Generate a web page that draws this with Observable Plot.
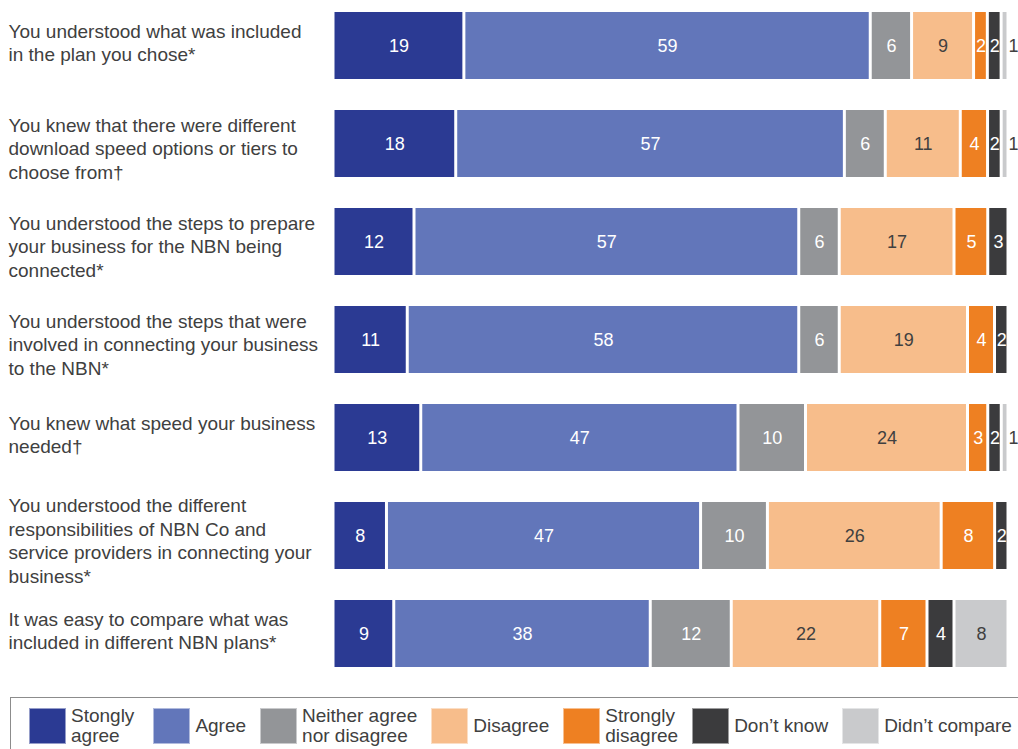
<!DOCTYPE html>
<html>
<head>
<meta charset="utf-8">
<script src="https://cdn.jsdelivr.net/npm/d3@7"></script>
<script src="https://cdn.jsdelivr.net/npm/@observablehq/plot@0.6"></script>
<style>
  html, body { margin: 0; padding: 0; background: #fff; overflow: hidden; }
  body { font-family: "Liberation Sans", Arial, sans-serif; color: #404040; width: 1018px; height: 749px; }
  #legend {
    margin: 7px 0 0 10px;
    border-top: 1.5px solid #8c8c8c;
    border-left: 1.5px solid #8c8c8c;
    height: 56px;
    width: 1100px;
    padding-left: 18px;
    display: flex;
    align-items: center;
  }
  .item { display: flex; align-items: center; margin-right: 14px; }
  .item:first-child { margin-right: 19px; }
  .sw { width: 37px; height: 36px; box-sizing: border-box; border: 1px solid rgba(255,255,255,0.5); }
  .lab { margin-left: 5px; font-size: 19px; line-height: 20px; white-space: pre-line; color: #404040; }
</style>
</head>
<body>
<div id="chart"></div>
<div id="legend"></div>
<script>
// Questions (y categories)
const questions = [
  "You understood what was included\nin the plan you chose*",
  "You knew that there were different\ndownload speed options or tiers to\nchoose from\u2020",
  "You understood the steps to prepare\nyour business for the NBN being\nconnected*",
  "You understood the steps that were\ninvolved in connecting your business\nto the NBN*",
  "You knew what speed your business\nneeded\u2020",
  "You understood the different\nresponsibilities of NBN Co and\nservice providers in connecting your\nbusiness*",
  "It was easy to compare what was\nincluded in different NBN plans*"
];

// Response categories and legend labels
const categories = ["Stongly agree", "Agree", "Neither agree nor disagree", "Disagree", "Strongly disagree", "Don\u2019t know", "Didn\u2019t compare"];
const legendLabels = ["Stongly\nagree", "Agree", "Neither agree\nnor disagree", "Disagree", "Strongly\ndisagree", "Don\u2019t know", "Didn\u2019t compare"];
const colors = ["#2b3a93", "#6276ba", "#939598", "#f7bd8b", "#ee8022", "#3b3b3d", "#c9cacc"];

// Series values (percent), one per category, in question order
const stronglyAgree    = [19, 18, 12, 11, 13, 8, 9];
const agree            = [59, 57, 57, 58, 47, 47, 38];
const neither          = [6, 6, 6, 6, 10, 10, 12];
const disagree         = [9, 11, 17, 19, 24, 26, 22];
const stronglyDisagree = [2, 4, 5, 4, 3, 8, 7];
const dontKnow         = [2, 2, 3, 2, 2, 2, 4];
const didntCompare     = [1, 1, 0, 0, 1, 0, 8];

const series = [stronglyAgree, agree, neither, disagree, stronglyDisagree, dontKnow, didntCompare];
const whiteText = new Set([categories[0], categories[1], categories[2], categories[4], categories[5]]);
const lastCat = categories[6];

const data = questions.flatMap((q, i) =>
  categories.map((c, j) => ({q, cat: c, value: series[j][i]})).filter(d => d.value > 0)
);

const isOutside = d => d.cat === lastCat && d.value <= 1;
const nLines = q => q.split("\n").length;

const labelStyle = {y: d => d, text: d => d, frameAnchor: "left", textAnchor: "start", dx: -325,
  fontSize: 19, lineHeight: 1.23, fill: "#404040"};

const chart = Plot.plot({
  width: 1018,
  height: 690,
  marginLeft: 333,
  marginRight: 10,
  marginTop: 2,
  marginBottom: 13,
  style: {fontFamily: "'Liberation Sans', Arial, sans-serif", fontSize: "18px", color: "#404040", background: "white", overflow: "visible"},
  x: {axis: null},
  y: {axis: null, domain: questions, paddingInner: 0.316, paddingOuter: 0.1},
  color: {domain: categories, range: colors},
  marks: [
    Plot.barX(data, Plot.stackX({x: "value", y: "q", fill: "cat", offset: "normalize", insetLeft: 1.5, insetRight: 1.5})),
    Plot.text(data, Plot.stackX({x: "value", y: "q", offset: "normalize",
      text: d => whiteText.has(d.cat) ? String(d.value) : "", fill: "white", fontSize: 18})),
    Plot.text(data, Plot.stackX({x: "value", y: "q", offset: "normalize",
      text: d => (!whiteText.has(d.cat) && !isOutside(d)) ? String(d.value) : "", fill: "#404040", fontSize: 18})),
    Plot.text(data, Plot.stackX2({x: "value", y: "q", offset: "normalize",
      text: d => isOutside(d) ? String(d.value) : "", fill: "#404040", fontSize: 18, textAnchor: "start", dx: 0})),
    Plot.text(questions.filter(q => nLines(q) <= 2), {...labelStyle, dy: -4}),
    Plot.text(questions.filter(q => nLines(q) > 2), {...labelStyle, dy: 4})
  ]
});
document.getElementById("chart").appendChild(chart);

// Legend
const legend = document.getElementById("legend");
categories.forEach((c, i) => {
  const item = document.createElement("div");
  item.className = "item";
  const sw = document.createElement("div");
  sw.className = "sw";
  sw.style.background = colors[i];
  const lab = document.createElement("div");
  lab.className = "lab";
  lab.textContent = legendLabels[i];
  item.appendChild(sw);
  item.appendChild(lab);
  legend.appendChild(item);
});
</script>
</body>
</html>
